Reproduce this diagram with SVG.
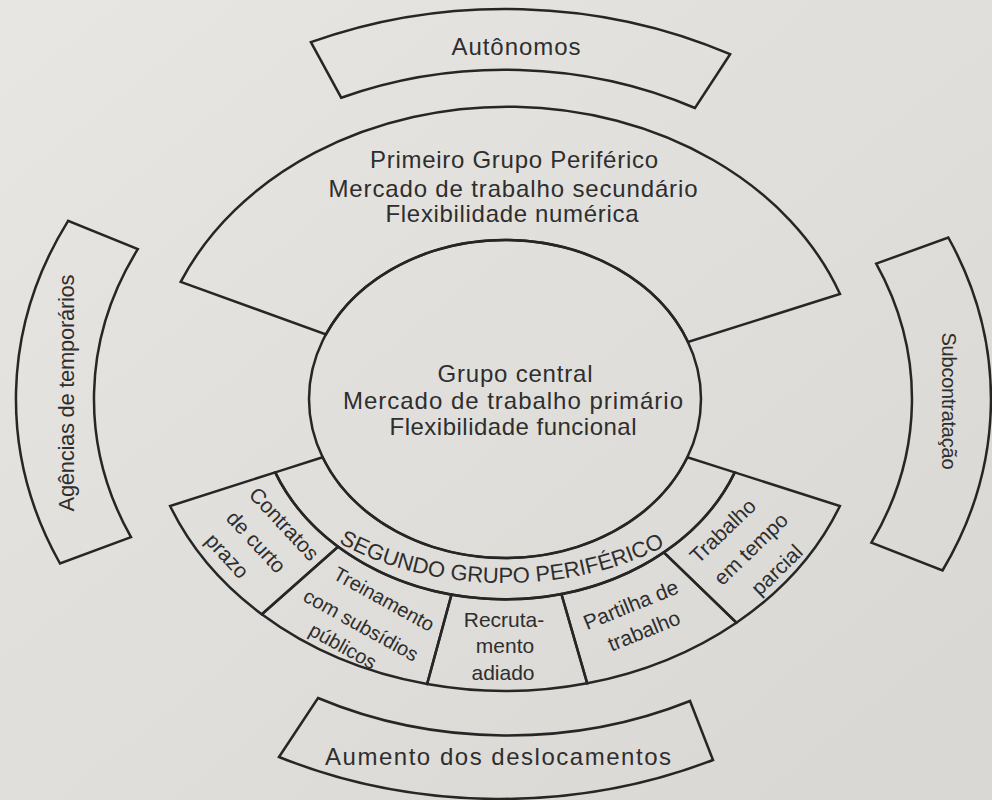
<svg xmlns="http://www.w3.org/2000/svg" width="992" height="800" viewBox="0 0 992 800">
<defs>
<style>
.ln{fill:none;stroke:#262626;stroke-width:2.5;stroke-linejoin:miter}
.t{font-family:"Liberation Sans",Arial,sans-serif;fill:#2e2e2e;font-size:24px;text-anchor:middle}
.s{font-size:21px}
</style>
<linearGradient id="paper" x1="0" y1="0" x2="1" y2="1">
<stop offset="0" stop-color="#e8e6e3"/>
<stop offset="1" stop-color="#d9d7d4"/>
</linearGradient>
<path id="segArc" d="M 255,461.9 A 266 184 0 0 0 755,461.9"/>
</defs>
<rect x="0" y="0" width="992" height="800" fill="url(#paper)"/>

<g id="node-autonomos">
<path class="ln" d="M 310.9,42.1 A 481 390.1 0 0 1 730.1,54.2 L 695,108 A 406 329.3 0 0 0 341.2,97.7 Z"/>
<text class="t" x="516" y="55" textLength="129">Autônomos</text>
</g>

<g id="node-agencias">
<path class="ln" d="M 68.1,220.8 A 489 396.6 0 0 0 60,563.5 L 131,537.2 A 411 333.3 0 0 1 137.8,249.2 Z"/>
<text class="t" style="font-size:22px" transform="translate(74 393) rotate(-90)" x="0" y="0" textLength="237">Agências de temporários</text>
</g>

<g id="node-subcontratacao">
<path class="ln" d="M 948.3,237.5 A 486 394.1 0 0 1 942.5,570.5 L 871.4,542.7 A 407 330.1 0 0 0 876.2,263.7 Z"/>
<text class="t" style="font-size:20px" transform="translate(942 401) rotate(90)" x="0" y="0" textLength="137">Subcontratação</text>
</g>

<g id="node-aumento">
<path class="ln" d="M 318,698 A 412 334 0 0 0 690,701 L 713,760 A 493 396 0 0 1 279,757 Z"/>
<text class="t" x="498" y="765" textLength="346">Aumento dos deslocamentos</text>
</g>

<g id="node-primeiro">
<path class="ln" d="M 180.7,281.9 A 355 287.9 0 0 1 840,294 L 688,342 A 196 159 0 0 0 326,334.4 Z"/>
<text class="t" x="514" y="168" textLength="288">Primeiro Grupo Periférico</text>
<text class="t" x="513" y="197" textLength="369">Mercado de trabalho secundário</text>
<text class="t" x="512" y="222" textLength="253">Flexibilidade numérica</text>
</g>

<g id="node-central">
<ellipse class="ln" cx="505" cy="399" rx="196" ry="159"/>
<text class="t" x="515" y="382" textLength="155">Grupo central</text>
<text class="t" x="513" y="409" textLength="340">Mercado de trabalho primário</text>
<text class="t" x="513" y="435" textLength="247">Flexibilidade funcional</text>
</g>

<g id="node-segundo">
<path class="ln" d="M 322.6,457.3 L 275.2,472.4 A 247 200.3 0 0 0 734.8,472.4 L 687.4,457.3 A 196 159 0 0 1 322.6,457.3 Z"/>
<text class="t" style="font-size:22px"><textPath href="#segArc" startOffset="49.4%">SEGUNDO GRUPO PERIFÉRICO</textPath></text>
</g>

<g id="node-contratos">
<path class="ln" d="M 275.2,472.4 L 170.1,506 A 360 292 0 0 0 261.8,614.3 L 338.1,546.7 A 247 200.3 0 0 1 275.2,472.4 Z"/>
<text class="t s" transform="translate(284 524) rotate(47)" y="7">Contratos</text>
<text class="t s" transform="translate(256 542) rotate(47)" y="7">de curto</text>
<text class="t s" transform="translate(227 556) rotate(47)" y="7">prazo</text>
</g>

<g id="node-treinamento">
<path class="ln" d="M 338.1,546.7 L 261.8,614.3 A 360 292 0 0 0 427.1,684.1 L 451.5,594.6 A 247 200.3 0 0 1 338.1,546.7 Z"/>
<text class="t" style="font-size:20px" transform="translate(384 599) rotate(29)" y="7">Treinamento</text>
<text class="t" style="font-size:20px" transform="translate(361 625) rotate(29)" y="7">com subsídios</text>
<text class="t" style="font-size:20px" transform="translate(343 646) rotate(29)" y="7">públicos</text>
</g>

<g id="node-recrutamento">
<path class="ln" d="M 451.5,594.6 L 427.1,684.1 A 360 292 0 0 0 587.2,683.3 L 561.4,594 A 247 200.3 0 0 1 451.5,594.6 Z"/>
<text class="t s" x="504" y="627">Recruta-</text>
<text class="t s" x="505" y="653">mento</text>
<text class="t s" x="503" y="680">adiado</text>
</g>

<g id="node-partilha">
<path class="ln" d="M 561.4,594 L 587.2,683.3 A 360 292 0 0 0 736.4,622.7 L 663.8,552.4 A 247 200.3 0 0 1 561.4,594 Z"/>
<text class="t s" transform="translate(631 605) rotate(-22)" y="7">Partilha de</text>
<text class="t s" transform="translate(644 631) rotate(-22)" y="7">trabalho</text>
</g>

<g id="node-trabalho-parcial">
<path class="ln" d="M 663.8,552.4 L 736.4,622.7 A 360 292 0 0 0 839.9,506 L 734.8,472.4 A 247 200.3 0 0 1 663.8,552.4 Z"/>
<text class="t s" transform="translate(723 531) rotate(-44)" y="7">Trabalho</text>
<text class="t s" transform="translate(751 549) rotate(-44)" y="7">em tempo</text>
<text class="t s" transform="translate(777 570) rotate(-44)" y="7">parcial</text>
</g>

<g id="connectors"></g>
</svg>
